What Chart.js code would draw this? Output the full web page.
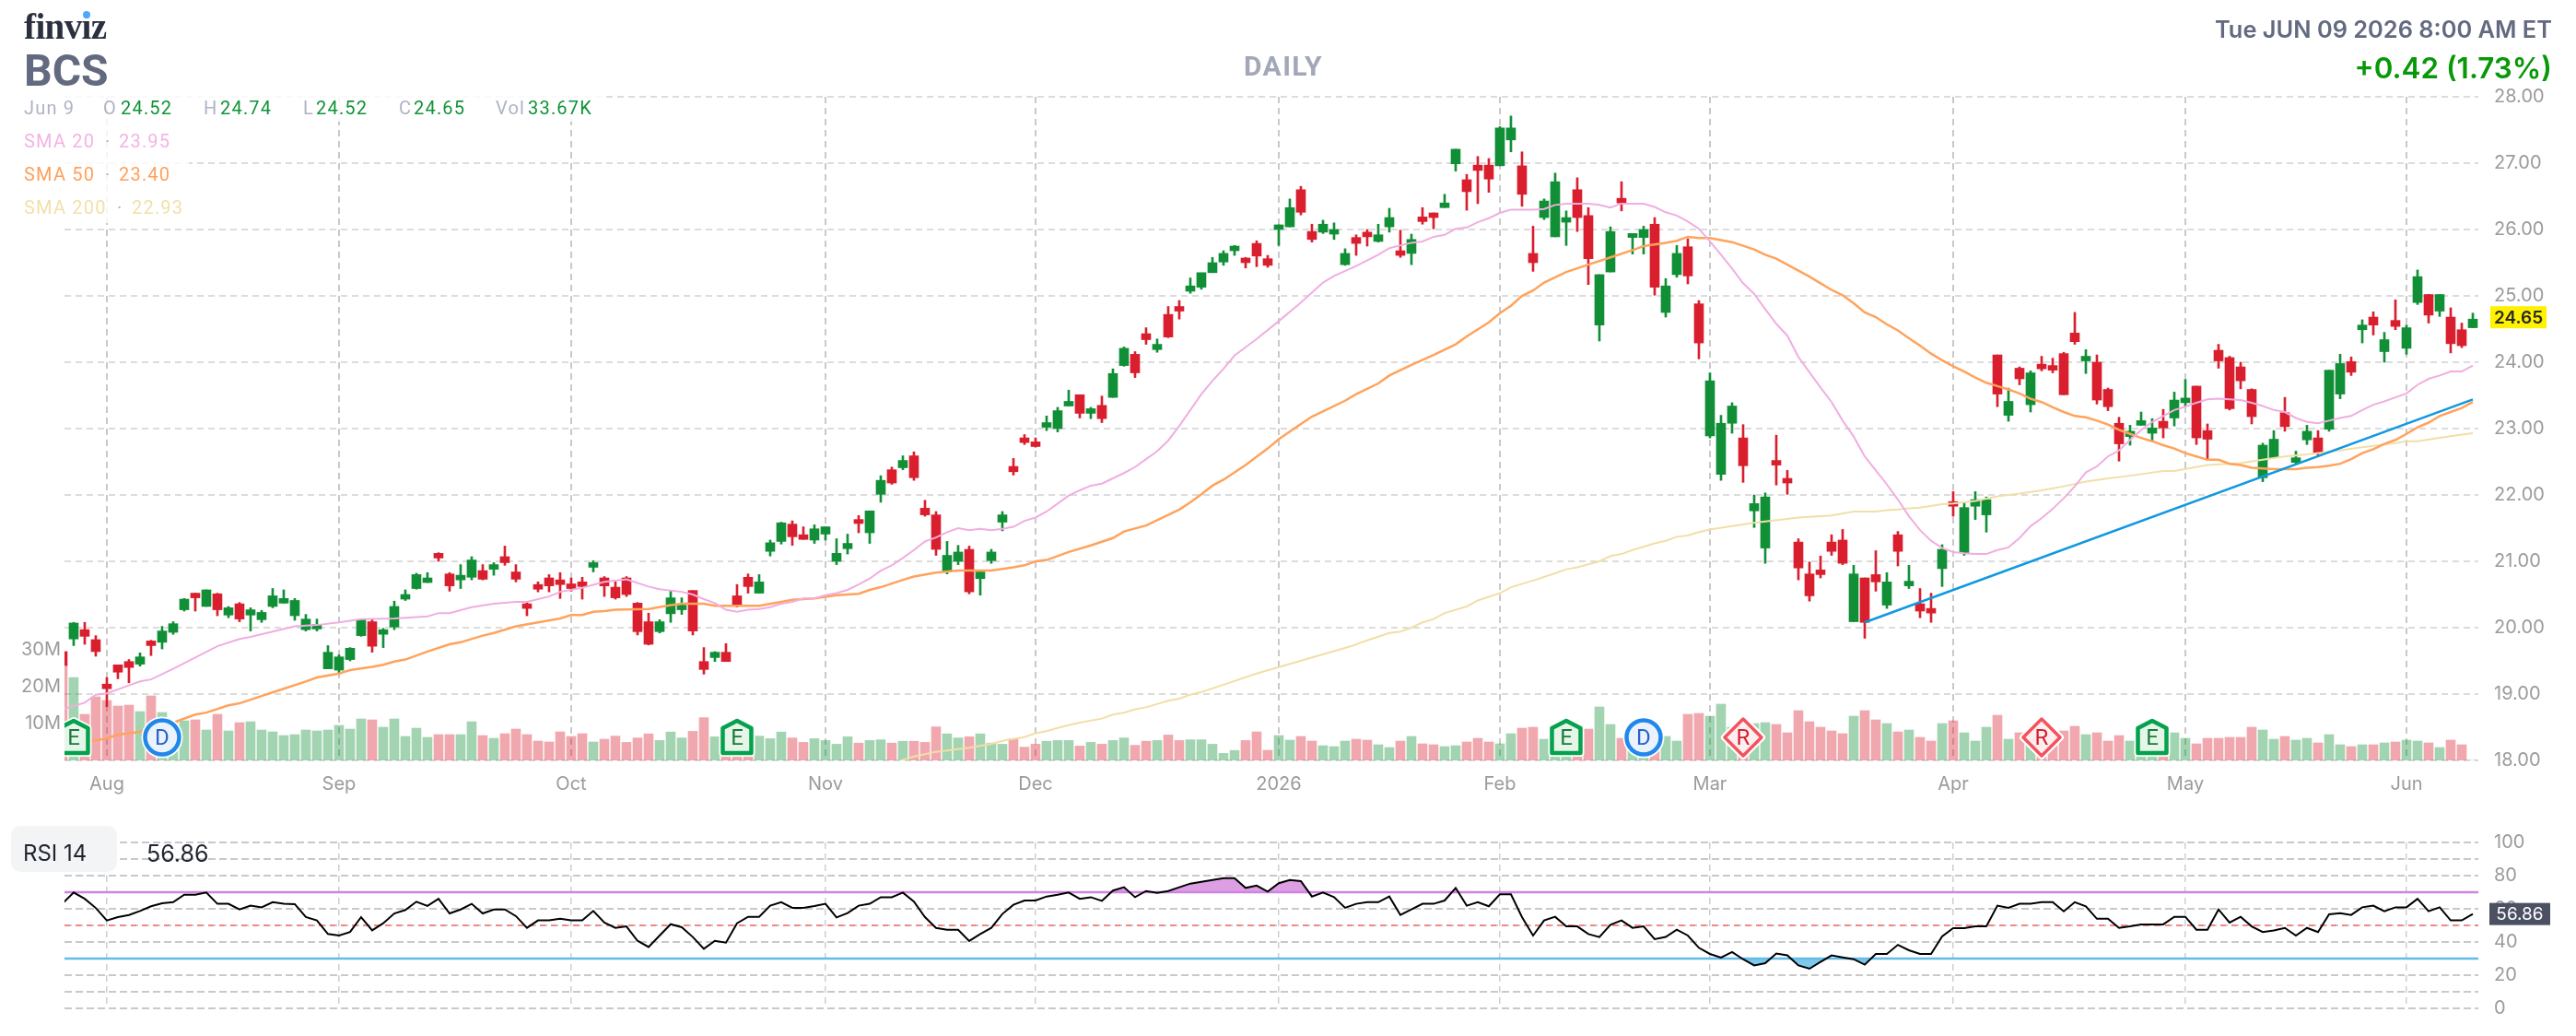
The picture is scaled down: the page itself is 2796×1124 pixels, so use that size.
<!DOCTYPE html>
<html>
<head>
<meta charset="utf-8">
<title>BCS daily chart</title>
<script src="https://cdn.jsdelivr.net/npm/chart.js@4/dist/chart.umd.min.js"></script>
<style>
  html, body { margin: 0; padding: 0; background: #fff; }
  #page { position: relative; width: 2796px; height: 1124px; overflow: hidden; background: #fff; font-family: Roboto, sans-serif; }
  canvas { position: absolute; left: 0; }
  .t { position: absolute; white-space: nowrap; line-height: 1; z-index: 3; }
  .veil { position: absolute; background: rgba(255,255,255,.82); z-index: 2; }
  .row { font-size: 20px; letter-spacing: 1.2px; transform: translateY(-50%); }
  .muted { color: #aeb3c6; }
  .up { color: #109438; }
</style>
</head>
<body>
<div id="page">
  <canvas id="priceCanvas" style="top:0"></canvas>
  <canvas id="rsiCanvas" style="top:880px"></canvas>

  <div class="veil" style="left:0;top:100px;width:656px;height:32px"></div>
  <div class="veil" style="left:0;top:132px;width:205px;height:110px"></div>

  <div class="t" style="left:26px;top:6px;font:700 39px 'Liberation Serif',serif;letter-spacing:-.6px;color:#2b3040">finviz</div>
  <div class="t" style="left:90px;top:12px;width:8px;height:8px;border-radius:50%;background:#4fa8ff"></div>
  <div class="t" style="left:26px;top:53px;font-size:48px;font-weight:700;color:#636a80">BCS</div>
  <div class="t" style="left:1393px;top:57px;transform:translateX(-50%);font-size:30px;font-weight:700;letter-spacing:1.4px;color:#a3a8b8">DAILY</div>
  <div class="t" style="right:26px;top:16px;font:600 25.4px Inter,sans-serif;color:#636a80">Tue JUN 09 2026 8:00 AM ET</div>
  <div class="t" style="right:26px;top:55px;font:600 31.4px Inter,sans-serif;color:#089808">+0.42 (1.73%)</div>

  <div class="t row muted" style="left:26px;top:117px">Jun 9</div>
  <div class="t row muted" style="left:112px;top:117px">O</div>
  <div class="t row up" style="left:131px;top:117px">24.52</div>
  <div class="t row muted" style="left:221px;top:117px">H</div>
  <div class="t row up" style="left:239px;top:117px">24.74</div>
  <div class="t row muted" style="left:329px;top:117px">L</div>
  <div class="t row up" style="left:343px;top:117px">24.52</div>
  <div class="t row muted" style="left:433px;top:117px">C</div>
  <div class="t row up" style="left:449px;top:117px">24.65</div>
  <div class="t row muted" style="left:538px;top:117px">Vol</div>
  <div class="t row up" style="left:573px;top:117px">33.67K</div>

  <div class="t row" style="left:26px;top:153px;color:#f4b3e3">SMA 20</div>
  <div class="t row muted" style="left:114px;top:153px">·</div>
  <div class="t row" style="left:129px;top:153px;color:#f4b3e3">23.95</div>
  <div class="t row" style="left:26px;top:189px;color:#ffa05c">SMA 50</div>
  <div class="t row muted" style="left:114px;top:189px">·</div>
  <div class="t row" style="left:129px;top:189px;color:#ffa05c">23.40</div>
  <div class="t row" style="left:26px;top:225px;color:#f3dfa9">SMA 200</div>
  <div class="t row muted" style="left:127px;top:225px">·</div>
  <div class="t row" style="left:143px;top:225px;color:#f3dfa9">22.93</div>

  <div class="t" style="left:12px;top:896px;width:115px;height:50px;border-radius:10px;background:#f3f4f6"></div>
  <div class="t" style="left:25px;top:911px;font:400 24px Inter,sans-serif;color:#1f2430">RSI 14</div>
  <div class="t" style="left:159px;top:911px;font:400 25px Inter,sans-serif;color:#1f2430">56.86</div>
</div>

<script>
// Daily bars, oldest first. Bar index 0 is the session before the first one fully in view.
const opens = [
  19.64,19.83,19.97,19.82,19.15,19.44,19.49,19.45,19.80,19.78,
  19.93,20.27,20.52,20.32,20.51,20.19,20.36,20.19,20.12,20.32,
  20.37,20.18,19.97,19.98,19.38,19.36,19.52,19.88,20.09,19.90,
  20.01,20.43,20.59,20.68,21.12,20.81,20.72,20.76,20.86,20.88,
  21.07,20.84,20.36,20.65,20.75,20.72,20.66,20.69,20.91,20.75,
  20.61,20.75,20.37,20.09,19.94,20.21,20.27,20.56,19.49,19.55,
  19.63,20.48,20.76,20.52,21.15,21.30,21.56,21.40,21.32,21.41,
  21.00,21.19,21.63,21.43,22.01,22.38,22.41,22.59,21.80,21.70,
  20.84,21.00,21.18,20.74,21.01,21.59,22.43,22.86,22.80,23.02,
  23.00,23.34,23.51,23.23,23.35,23.47,23.95,24.12,24.43,24.19,
  24.72,24.84,25.07,25.13,25.35,25.51,25.68,25.57,25.79,25.56,
  26.00,26.04,26.60,25.97,25.96,25.93,25.47,25.88,25.96,25.82,
  26.04,25.68,25.64,26.19,26.25,26.33,26.99,26.75,26.97,26.97,
  26.96,27.35,26.96,25.64,26.18,25.89,26.11,26.60,26.21,24.56,
  25.36,26.47,25.88,25.88,26.08,24.75,25.32,25.74,24.88,22.89,
  22.31,23.08,22.86,21.76,21.20,22.52,22.25,21.29,20.81,20.87,
  21.29,21.32,20.09,20.75,20.80,20.34,21.40,20.63,20.36,20.29,
  20.89,21.90,21.13,21.83,21.70,24.11,23.20,23.91,23.36,23.97,
  23.95,24.13,24.44,24.02,24.00,23.59,23.08,22.88,23.05,22.93,
  23.11,23.16,23.39,23.64,22.97,24.18,24.07,23.93,23.59,22.26,
  22.56,23.24,22.49,22.83,22.86,22.99,23.52,24.01,24.49,24.68,
  24.16,24.63,24.21,24.90,25.02,24.77,24.68,24.49,24.52
];
const highs = [
  19.66,20.08,20.08,19.88,19.25,19.44,19.52,19.62,19.81,20.02,
  20.09,20.44,20.52,20.57,20.52,20.32,20.38,20.30,20.26,20.59,
  20.57,20.44,20.20,20.13,19.73,19.59,19.70,20.13,20.13,19.99,
  20.40,20.57,20.82,20.83,21.13,20.83,20.95,21.07,20.95,20.98,
  21.23,20.95,20.38,20.69,20.80,20.83,20.75,20.76,21.01,20.77,
  20.69,20.77,20.38,20.22,20.12,20.56,20.45,20.56,19.70,19.64,
  19.76,20.65,20.81,20.80,21.32,21.59,21.61,21.52,21.55,21.52,
  21.34,21.41,21.69,21.76,22.29,22.42,22.59,22.65,21.92,21.75,
  21.30,21.24,21.23,20.86,21.18,21.75,22.55,22.91,22.86,23.19,
  23.32,23.58,23.51,23.32,23.49,23.90,24.23,24.16,24.52,24.35,
  24.84,24.93,25.27,25.32,25.58,25.68,25.76,25.58,25.83,25.61,
  26.07,26.46,26.65,26.08,26.14,26.10,25.71,25.92,26.00,26.08,
  26.32,25.99,25.93,26.33,26.25,26.53,27.21,26.83,27.10,27.07,
  27.55,27.71,27.17,26.05,26.46,26.85,26.28,26.78,26.33,25.32,
  26.04,26.72,25.94,26.05,26.18,25.26,25.76,25.86,24.93,23.84,
  23.20,23.39,23.06,22.00,22.03,22.90,22.37,21.34,20.99,21.08,
  21.40,21.48,20.94,20.75,21.16,20.83,21.45,20.94,20.59,20.52,
  21.25,22.05,21.88,22.05,21.97,24.11,23.61,23.93,23.87,24.09,
  24.06,24.15,24.75,24.19,24.11,23.61,23.17,23.05,23.25,23.15,
  23.29,23.55,23.74,23.64,23.07,24.27,24.09,24.00,23.60,22.78,
  22.97,23.47,22.66,23.05,22.97,23.88,24.12,24.08,24.64,24.76,
  24.45,24.94,24.56,25.39,25.02,25.02,24.82,24.59,24.74
];
const lows = [
  19.40,19.73,19.75,19.57,18.81,19.23,19.17,19.42,19.58,19.68,
  19.90,20.25,20.25,20.32,20.18,20.15,20.09,19.95,20.08,20.30,
  20.37,20.11,19.95,19.95,19.38,19.30,19.50,19.87,19.63,19.70,
  19.97,20.41,20.58,20.68,21.00,20.55,20.59,20.72,20.72,20.79,
  20.94,20.69,20.18,20.54,20.54,20.44,20.55,20.43,20.84,20.47,
  20.43,20.47,19.89,19.74,19.92,20.08,20.20,19.89,19.30,19.49,
  19.49,20.31,20.52,20.52,21.08,21.26,21.24,21.33,21.27,21.32,
  20.95,21.11,21.43,21.27,21.89,22.16,22.38,22.22,21.68,21.09,
  20.81,20.95,20.51,20.49,20.97,21.46,22.30,22.76,22.72,22.97,
  22.95,23.34,23.16,23.15,23.09,23.47,23.94,23.77,24.27,24.15,
  24.37,24.65,25.04,25.10,25.35,25.46,25.61,25.42,25.44,25.43,
  25.76,26.04,26.22,25.81,25.94,25.85,25.46,25.61,25.75,25.81,
  25.96,25.58,25.47,26.08,26.01,26.33,26.88,26.29,26.39,26.56,
  26.96,27.17,26.35,25.37,26.15,25.89,25.76,25.97,25.17,24.32,
  25.36,26.28,25.63,25.63,25.01,24.68,25.28,25.18,24.05,22.86,
  22.22,22.93,22.19,21.51,20.97,22.15,22.01,20.72,20.40,20.75,
  21.09,20.95,20.09,19.84,20.55,20.29,20.93,20.59,20.15,20.08,
  20.62,21.68,21.09,21.63,21.44,23.33,23.11,23.66,23.25,23.87,
  23.84,23.51,24.27,23.83,23.37,23.27,22.51,22.75,23.05,22.81,
  22.86,23.04,23.34,22.76,22.53,23.91,23.28,23.60,23.07,22.20,
  22.55,22.96,22.46,22.76,22.60,22.96,23.45,23.80,24.29,24.41,
  24.00,24.49,24.12,24.87,24.59,24.69,24.14,24.22,24.52
];
const closes = [
  19.43,20.07,19.87,19.64,19.08,19.33,19.40,19.56,19.73,19.95,
  20.06,20.43,20.45,20.57,20.27,20.30,20.13,20.27,20.23,20.48,
  20.44,20.41,20.13,20.05,19.63,19.56,19.69,20.12,19.72,19.97,
  20.32,20.50,20.80,20.75,21.05,20.63,20.79,21.02,20.73,20.95,
  20.98,20.73,20.29,20.58,20.63,20.65,20.59,20.62,20.98,20.63,
  20.45,20.50,19.94,19.75,20.09,20.45,20.34,19.95,19.37,19.63,
  19.49,20.35,20.62,20.69,21.28,21.58,21.37,21.33,21.49,21.52,
  21.12,21.27,21.57,21.76,22.22,22.18,22.52,22.26,21.70,21.18,
  21.09,21.14,20.54,20.84,21.14,21.70,22.35,22.79,22.73,23.09,
  23.27,23.41,23.23,23.30,23.15,23.83,24.21,23.84,24.34,24.27,
  24.38,24.77,25.15,25.35,25.50,25.64,25.75,25.50,25.60,25.46,
  26.07,26.33,26.26,25.85,26.08,26.00,25.64,25.79,25.89,25.92,
  26.18,25.61,25.85,26.12,26.18,26.40,27.21,26.57,26.89,26.76,
  27.53,27.53,26.53,25.50,26.43,26.72,26.18,26.18,25.56,25.32,
  25.97,26.40,25.94,26.00,25.13,25.15,25.64,25.30,24.29,23.72,
  23.08,23.34,22.44,21.87,21.97,22.45,22.18,20.90,20.48,20.80,
  21.15,20.97,20.81,20.08,20.69,20.69,21.15,20.70,20.25,20.22,
  21.18,21.83,21.81,21.93,21.93,23.52,23.41,23.75,23.84,23.90,
  23.88,23.51,24.31,24.09,23.43,23.33,22.77,22.96,23.12,23.01,
  23.01,23.43,23.46,22.86,22.84,24.02,23.30,23.72,23.18,22.75,
  22.84,23.03,22.56,22.96,22.63,23.88,23.98,23.85,24.56,24.56,
  24.34,24.54,24.52,25.29,24.71,25.02,24.28,24.25,24.65
];
// Shares traded per session, in millions.
const volumes = [
  25.8,22.5,12.5,17.25,16.25,14.75,15,13.25,17.5,13,
  10.5,10.75,11,8.25,12.5,8,10.25,10.5,8.25,7.75,
  6.75,7,8.25,8,8.25,9.5,8.5,11.25,11,9,
  11.25,6.5,8.75,6.25,7,7,7,10.5,6.75,6,
  7.25,8.5,7,5.25,5,7.75,6.5,7.25,5,5.75,
  6.6,4.9,6.1,7.2,5.4,7.7,6.1,7.9,11.6,6.4,
  6.5,6,5.5,6.6,5.9,7.7,6.1,4.9,5.9,5.4,
  4.4,6.4,4.7,5.4,5.6,4.7,5.2,5.2,4.9,9.1,
  7.2,6.1,6.4,7.2,4.7,4.4,5.9,3.6,4.4,5.2,
  5.4,5.4,3.9,4.9,4.4,5.4,6.1,4.1,5.2,5.4,
  6.9,5.4,5.6,5.6,4.4,1.9,2.7,5.4,7.75,2.75,
  6.75,5.5,6.5,5.25,4,3.75,5.25,5.75,5.5,4.25,
  3.5,5.25,6.5,4.5,4.25,3.75,4,5,6,5,
  4.5,7.25,8.75,9,5.75,6,6,7,8.5,14.5,
  9.75,6,7,6,5,6.5,5.25,12.5,12.75,12,
  15.25,9,7,10,10.25,9.75,7.5,13.5,10.5,9,
  8,7.25,12,13.5,11,10,7.75,8.25,6.25,5.25,
  10,10.75,7.5,5.25,9,12.25,5.75,7.5,8,8,
  7,8,9.25,7,7.5,5.25,6.75,5.25,7,6,
  6,7.5,6,4.5,6,6,6.25,6.25,9,8.25,
  5.75,6.5,5.5,6,4.75,7,4.25,3.75,4.25,4.25,
  4.75,5,5.5,5.25,4.75,3.5,5.5,4.25,0.03
];
// 14-session RSI, one value per bar.
const rsiValues = [
  63.3,69.8,66,60.5,53,55,56.3,58.7,61.5,63.3,
  64,68.5,68.5,69.8,63,63,59.6,61.9,60.9,64,
  63,62.8,55,53,44.8,43.9,46,55,47,51.3,
  57.2,59.3,64.3,61.7,66,57.2,59.6,63,57.2,59.6,
  59.6,55.6,48.5,53,53,54,53,53,58.7,51.7,
  48.5,49.4,40.7,37,43.9,50.7,48.9,43,35.9,40.7,
  39.6,51.3,55.2,55.2,61.9,64,60.6,60.6,61.7,63,
  54.8,57.4,61.9,63,67,67,69.8,64.3,55,48.5,
  47.4,47.4,40.6,44.8,48.5,56.9,62.4,65,65,67.4,
  68.5,69.8,66,67,64.8,71,73,67,70.7,69.6,
  70.7,73,75.2,76.3,77.4,78.5,78.5,72.6,74,70.4,
  75.4,77.4,76.7,67.4,69.8,67,60.6,63,64,64,
  67.4,56.3,59.6,63,63,65,72.6,61.9,64,61.5,
  68.7,68.7,55,43.9,53,55.2,49.4,49.4,44.8,43,
  50.4,53,48.5,49.4,41.7,43,47.4,43.9,36.5,32.8,
  30.6,34,29.6,25.9,27.2,33,32,25.9,23.9,28,
  31.9,30.7,29.6,26.3,32.8,32.8,38.3,35,32.8,32.8,
  43.3,48.3,48.3,49.4,49.4,61.9,60.6,63,63,64,
  64,58.5,64,61.5,54,54,48.5,49.4,50.6,50.6,
  50.6,55.2,55.2,47.4,47.4,59.6,51.7,55.2,49.4,46,
  47,48.5,43.9,48.5,46,56.7,57.4,56.3,60.9,61.9,
  58.5,60.9,60.9,66,58.5,60.9,53,53,56.86
];
// Moving averages as [bar index, value] pairs.
const sma20 = [
  [0,18.77],[2,18.87],[3,18.99],[4,19.01],[6,19.13],[7,19.19],[8,19.22],[10,19.38],[12,19.55],[14,19.72],
  [16,19.83],[17,19.86],[19,19.94],[21,20.02],[23,20.04],[25,20.08],[27,20.13],[30,20.14],[32,20.16],[33,20.17],
  [34,20.22],[35,20.22],[37,20.31],[39,20.36],[41,20.39],[42,20.39],[44,20.47],[45,20.54],[47,20.60],[49,20.69],
  [51,20.73],[53,20.62],[54,20.58],[56,20.54],[57,20.50],[58,20.43],[59,20.37],[60,20.27],[61,20.24],[62,20.27],
  [63,20.28],[64,20.31],[65,20.36],[66,20.39],[67,20.44],[68,20.44],[69,20.49],[70,20.52],[71,20.57],[72,20.65],
  [73,20.74],[74,20.86],[75,20.94],[76,21.05],[77,21.17],[78,21.30],[79,21.36],[80,21.44],[81,21.50],[82,21.47],
  [83,21.49],[84,21.47],[85,21.49],[86,21.52],[87,21.61],[88,21.66],[89,21.75],[90,21.87],[91,21.99],[92,22.07],
  [93,22.14],[94,22.17],[95,22.25],[96,22.33],[97,22.42],[98,22.54],[99,22.66],[100,22.82],[101,23.04],[102,23.28],
  [103,23.52],[104,23.72],[105,23.90],[106,24.10],[108,24.35],[110,24.62],[112,24.90],[114,25.20],[115,25.30],[117,25.45],
  [119,25.62],[120,25.72],[122,25.80],[123,25.82],[124,25.89],[125,25.92],[126,26.01],[127,26.03],[128,26.11],[129,26.17],
  [130,26.25],[131,26.30],[133,26.30],[134,26.31],[135,26.37],[136,26.39],[138,26.39],[139,26.37],[140,26.33],[141,26.39],
  [143,26.39],[144,26.34],[145,26.26],[146,26.21],[147,26.12],[148,26.01],[149,25.82],[150,25.62],[151,25.41],[152,25.19],
  [153,25.03],[154,24.80],[155,24.58],[156,24.40],[157,24.08],[158,23.85],[159,23.62],[160,23.40],[161,23.12],[162,22.88],
  [163,22.58],[164,22.37],[165,22.16],[166,21.93],[167,21.68],[168,21.47],[169,21.31],[170,21.20],[171,21.14],[172,21.12],
  [173,21.11],[174,21.11],[175,21.17],[176,21.21],[177,21.35],[178,21.53],[179,21.65],[180,21.79],[181,21.95],[182,22.13],
  [183,22.34],[184,22.43],[185,22.58],[186,22.67],[187,22.83],[188,22.98],[189,23.10],[190,23.19],[191,23.28],[192,23.33],
  [193,23.39],[194,23.44],[195,23.45],[196,23.44],[197,23.43],[198,23.39],[199,23.34],[200,23.28],[201,23.25],[202,23.16],
  [203,23.10],[204,23.08],[205,23.12],[206,23.16],[207,23.19],[208,23.28],[209,23.36],[210,23.41],[211,23.47],[212,23.53],
  [213,23.66],[214,23.75],[215,23.80],[216,23.86],[217,23.86],[218,23.95]
];
const sma50 = [
  [2.5,18.29],[4,18.33],[5,18.39],[7,18.43],[10,18.57],[12,18.69],[13,18.72],[15,18.83],[16,18.86],[18,18.97],
  [20,19.08],[22,19.19],[23,19.25],[25,19.31],[26,19.36],[28,19.41],[29,19.44],[30,19.49],[31,19.52],[33,19.64],
  [35,19.75],[36,19.78],[38,19.88],[39,19.92],[41,20.02],[43,20.08],[45,20.14],[46,20.19],[47,20.19],[48,20.24],
  [49,20.25],[50,20.27],[53,20.28],[55,20.34],[56,20.36],[58,20.36],[59,20.33],[61,20.33],[63,20.33],[65,20.39],
  [66,20.42],[68,20.44],[70,20.49],[72,20.51],[73,20.57],[74,20.61],[76,20.72],[77,20.77],[79,20.83],[81,20.86],
  [84,20.86],[86,20.91],[87,20.94],[88,21.00],[89,21.02],[91,21.14],[93,21.24],[95,21.35],[96,21.45],[98,21.54],
  [100,21.70],[101,21.78],[102,21.89],[103,22.01],[104,22.14],[105,22.23],[107,22.45],[109,22.70],[110,22.84],[112,23.07],
  [113,23.18],[116,23.42],[117,23.52],[119,23.68],[120,23.80],[122,23.96],[124,24.11],[126,24.27],[127,24.39],[129,24.60],
  [130,24.74],[131,24.85],[132,25.00],[133,25.08],[134,25.20],[136,25.36],[138,25.47],[140,25.58],[142,25.69],[143,25.75],
  [145,25.80],[146,25.83],[147,25.89],[148,25.87],[149,25.87],[151,25.81],[153,25.70],[154,25.62],[155,25.56],[157,25.38],
  [158,25.29],[159,25.19],[160,25.09],[161,25.01],[162,24.89],[163,24.75],[164,24.68],[165,24.57],[166,24.48],[167,24.36],
  [168,24.25],[169,24.13],[170,24.03],[171,23.94],[172,23.86],[173,23.77],[174,23.69],[175,23.64],[176,23.59],[177,23.53],
  [178,23.45],[179,23.40],[180,23.32],[181,23.25],[182,23.19],[183,23.17],[184,23.12],[185,23.06],[186,22.98],[187,22.92],
  [188,22.86],[189,22.81],[190,22.75],[191,22.70],[192,22.63],[193,22.58],[194,22.53],[195,22.53],[196,22.47],[197,22.45],
  [198,22.41],[199,22.40],[200,22.39],[201,22.39],[202,22.39],[203,22.41],[204,22.42],[205,22.44],[206,22.47],[207,22.54],
  [208,22.63],[209,22.69],[210,22.77],[211,22.83],[212,22.92],[213,23.02],[214,23.09],[215,23.19],[216,23.25],[217,23.31],
  [218,23.40]
];
const sma200 = [
  [75.7,17.99],[77,18.06],[79,18.13],[82,18.19],[84,18.25],[85.4,18.31],[87,18.35],[88,18.41],[89,18.44],[90,18.49],
  [91,18.53],[92,18.57],[94,18.63],[95,18.69],[96,18.72],[97,18.77],[98,18.80],[100,18.90],[101,18.93],[102,18.99],
  [103,19.03],[105,19.14],[108,19.31],[116.7,19.73],[118,19.81],[120,19.92],[121,19.94],[122,20.00],[123,20.08],[124,20.13],
  [125,20.22],[127,20.32],[128,20.41],[130,20.52],[131,20.61],[133,20.71],[135,20.82],[136,20.88],[137,20.91],[139,21.00],
  [140,21.08],[141,21.11],[142,21.17],[144,21.27],[145,21.31],[146,21.37],[147,21.39],[148,21.44],[149,21.48],[151,21.53],
  [153,21.58],[154,21.60],[156,21.64],[157,21.66],[158,21.67],[160,21.69],[162,21.75],[164,21.75],[165,21.77],[166,21.78],
  [167,21.80],[168,21.81],[170,21.86],[171,21.87],[173,21.91],[175,21.98],[177,22.02],[179,22.07],[181,22.13],[183,22.20],
  [185,22.25],[187,22.29],[190,22.36],[191,22.36],[194,22.45],[197,22.48],[199,22.53],[201,22.58],[203,22.61],[205,22.65],
  [208,22.72],[211,22.78],[212,22.81],[213,22.81],[215,22.86],[217,22.91],[218,22.93]
];
// Support trendline drawn through two anchors.
const trendLine = [[163,20.08],[218,23.44]];
// Bar index of the first session of each month and its axis label.
const monthBars = [4,25,46,69,88,110,130,149,171,192,212];
const monthLabels = ['Aug','Sep','Oct','Nov','Dec','2026','Feb','Mar','Apr','May','Jun'];
// Price and volume axis ticks.
const priceTicks = [18,19,20,21,22,23,24,25,26,27,28];
const volumeTicks = [10,20,30];
// Corporate event badges: earnings, dividend, rating change.
const eventKinds = ['E','D','E','E','D','R','R','E'];
const eventBars = [1,9,61,136,143,152,179,189];
const eventLevel = 6.25;   // on the volume axis, in millions
const rsiOverbought = 70;
const rsiMidline = 50;
const rsiOversold = 30;

const GREEN = '#118f37', RED = '#d91f2e';
const GREEN_VOL = 'rgba(17,143,55,.39)', RED_VOL = 'rgba(217,31,46,.39)';
const TICK_FONT = { family: 'Inter, sans-serif', size: 20 };
const TICK_COLOR = '#9b9b9b';
const X_MIN = 0.17, X_MAX = 218.5;
const isUp = i => closes[i] >= opens[i];
const bars = opens.map((_, i) => i);
const pairs = list => list.map(([x, y]) => ({ x, y }));
const fixedWidth = w => s => { s.width = w; };
const fixedHeight = h => s => { s.height = h; };
const monthTicks = s => { s.ticks = monthBars.map(value => ({ value })); };

const lineSet = (label, data, color, width, order, extra) => Object.assign({
  type: 'line', label, data, borderColor: color, borderWidth: width,
  pointRadius: 0, tension: 0, fill: false, order, yAxisID: 'y'
}, extra);

// Yellow tag holding the latest close on the price axis.
const closeTag = {
  id: 'closeTag',
  afterDraw(chart) {
    const { ctx, scales } = chart;
    const last = closes[closes.length - 1];
    const y = scales.y.getPixelForValue(last) - 2;
    ctx.save();
    ctx.fillStyle = '#fff200';
    ctx.fillRect(2703, y - 12, 61, 24);
    ctx.fillStyle = '#2a2a2a';
    ctx.font = '600 19px Inter, sans-serif';
    ctx.textBaseline = 'middle';
    ctx.textAlign = 'center';
    ctx.fillText(last.toFixed(2), 2733.5, y + 1);
    ctx.restore();
  }
};

// Tag holding the latest RSI on its axis.
const rsiTag = {
  id: 'rsiTag',
  afterDraw(chart) {
    const { ctx, scales } = chart;
    const last = rsiValues[rsiValues.length - 1];
    const y = scales.y.getPixelForValue(last);
    ctx.save();
    ctx.fillStyle = '#4b5063';
    ctx.fillRect(2702, y - 12, 66, 24);
    ctx.fillStyle = '#fff';
    ctx.font = '400 19px Inter, sans-serif';
    ctx.textBaseline = 'middle';
    ctx.textAlign = 'center';
    ctx.fillText(last.toFixed(2), 2735, y + 1);
    ctx.restore();
  }
};

// Event badges sit on top of the volume bars and stay inside the plot.
const eventBadges = {
  id: 'eventBadges',
  afterDatasetsDraw(chart) {
    const { ctx, scales, chartArea } = chart;
    const cy = scales.yVol.getPixelForValue(eventLevel);
    ctx.save();
    ctx.beginPath();
    ctx.rect(chartArea.left, chartArea.top, chartArea.right - chartArea.left, chartArea.bottom - chartArea.top);
    ctx.clip();
    eventKinds.forEach((kind, n) => {
      const cx = scales.x.getPixelForValue(eventBars[n]);
      ctx.lineJoin = 'round';
      ctx.beginPath();
      let stroke, fill, ink;
      if (kind === 'D') {
        ctx.arc(cx, cy, 18.5, 0, Math.PI * 2);
        stroke = '#2188ea'; fill = '#e9f2fd'; ink = '#2962c8';
      } else if (kind === 'R') {
        ctx.moveTo(cx, cy - 20);
        ctx.lineTo(cx + 20, cy);
        ctx.lineTo(cx, cy + 20);
        ctx.lineTo(cx - 20, cy);
        ctx.closePath();
        stroke = '#f4525e'; fill = '#fdeff0'; ink = '#d5202e';
      } else {
        ctx.moveTo(cx, cy - 18);
        ctx.lineTo(cx + 15.5, cy - 10);
        ctx.lineTo(cx + 15.5, cy + 17);
        ctx.lineTo(cx - 15.5, cy + 17);
        ctx.lineTo(cx - 15.5, cy - 10);
        ctx.closePath();
        stroke = '#04a24c'; fill = '#e5f5e8'; ink = '#1a7a3a';
      }
      ctx.strokeStyle = '#fff';
      ctx.lineWidth = 8;
      ctx.stroke();
      ctx.fillStyle = fill;
      ctx.fill();
      ctx.strokeStyle = stroke;
      ctx.lineWidth = kind === 'R' ? 3.5 : 4.5;
      ctx.stroke();
      ctx.fillStyle = ink;
      ctx.font = '400 24px Roboto, sans-serif';
      ctx.textAlign = 'center';
      ctx.textBaseline = 'middle';
      ctx.fillText(kind, cx, cy + 2);
    });
    ctx.restore();
  }
};

const priceCanvas = document.getElementById('priceCanvas');
priceCanvas.width = 2796; priceCanvas.height = 880;
new Chart(priceCanvas, {
  data: {
    datasets: [
      { type: 'bar', label: 'Volume', yAxisID: 'yVol', order: 10, grouped: false, barThickness: 10,
        data: bars.map(i => ({ x: i, y: volumes[i] })),
        backgroundColor: bars.map(i => isUp(i) ? GREEN_VOL : RED_VOL) },
      { type: 'bar', label: 'Range', yAxisID: 'y', order: 6, grouped: false, barThickness: 2,
        data: bars.map(i => ({ x: i, y: [lows[i], highs[i]] })),
        backgroundColor: bars.map(i => isUp(i) ? GREEN : RED) },
      { type: 'bar', label: 'Body', yAxisID: 'y', order: 5, grouped: false, barThickness: 10,
        data: bars.map(i => ({ x: i, y: [opens[i], closes[i]] })),
        backgroundColor: bars.map(i => isUp(i) ? GREEN : RED) },
      lineSet('SMA 200', pairs(sma200), '#f1dfa8', 2, 4),
      lineSet('SMA 50', pairs(sma50), '#ffa35c', 2.5, 3),
      lineSet('SMA 20', pairs(sma20), '#f0aee0', 2, 2),
      lineSet('Trend', pairs(trendLine), '#1098e0', 2.5, 1)
    ]
  },
  options: {
    responsive: false, animation: false, events: [],
    layout: { padding: { top: 105, left: 0, right: 0, bottom: 0 } },
    plugins: { legend: { display: false }, tooltip: { enabled: false } },
    scales: {
      x: {
        type: 'linear', min: X_MIN, max: X_MAX, offset: false,
        afterBuildTicks: monthTicks, afterFit: fixedHeight(55),
        grid: { offset: false, color: '#c9c9c9', lineWidth: 2, drawTicks: false },
        border: { display: false, dash: [7, 5] },
        ticks: {
          autoSkip: false, maxRotation: 0, padding: 14, color: TICK_COLOR, font: TICK_FONT,
          callback: v => monthLabels[monthBars.indexOf(v)]
        }
      },
      y: {
        position: 'right', min: 18, max: 28,
        afterBuildTicks: s => { s.ticks = priceTicks.map(value => ({ value })); },
        afterFit: fixedWidth(106),
        grid: { color: '#dcdcdc', lineWidth: 2, drawTicks: false },
        border: { display: false, dash: [7, 5] },
        ticks: { padding: 17, color: TICK_COLOR, font: TICK_FONT, autoSkip: false, callback: v => v.toFixed(2) }
      },
      yVol: {
        position: 'left', min: 0, max: 180,
        afterBuildTicks: s => { s.ticks = volumeTicks.map(value => ({ value })); },
        afterFit: fixedWidth(70),
        grid: { display: false, drawTicks: false },
        border: { display: false },
        ticks: { padding: 4, color: TICK_COLOR, font: TICK_FONT, autoSkip: false, callback: v => v + 'M' }
      }
    }
  },
  plugins: [eventBadges, closeTag]
});

const rsiPoints = bars.map(i => ({ x: i, y: rsiValues[i] }));
const levelLine = v => [{ x: X_MIN, y: v }, { x: X_MAX, y: v }];

const rsiCanvas = document.getElementById('rsiCanvas');
rsiCanvas.width = 2796; rsiCanvas.height = 244;
new Chart(rsiCanvas, {
  data: {
    datasets: [
      lineSet('Overbought zone', rsiPoints, 'transparent', 0, 6, {
        fill: { target: { value: rsiOverbought }, above: '#dd9fe3', below: 'transparent' } }),
      lineSet('Oversold zone', rsiPoints, 'transparent', 0, 5, {
        fill: { target: { value: rsiOversold }, above: 'transparent', below: '#7ec8ea' } }),
      lineSet('Midline', levelLine(rsiMidline), '#f48585', 2, 4, { borderDash: [6, 6] }),
      lineSet('Overbought', levelLine(rsiOverbought), '#cf84e0', 2.5, 3),
      lineSet('Oversold', levelLine(rsiOversold), '#62bce8', 2.5, 2),
      lineSet('RSI 14', rsiPoints, '#000', 2, 1)
    ]
  },
  options: {
    responsive: false, animation: false, events: [],
    layout: { padding: { top: 34, left: 70, right: 0, bottom: 30 } },
    plugins: { legend: { display: false }, tooltip: { enabled: false } },
    scales: {
      x: {
        type: 'linear', min: X_MIN, max: X_MAX,
        afterBuildTicks: monthTicks, afterFit: fixedHeight(0),
        grid: { offset: false, color: '#cfcfcf', lineWidth: 1.5, drawTicks: false },
        border: { display: false, dash: [7, 5] },
        ticks: { display: false, autoSkip: false, maxRotation: 0, padding: 0 }
      },
      y: {
        position: 'right', min: 0, max: 100,
        afterFit: fixedWidth(106),
        grid: { color: '#c9c9c9', lineWidth: 2, drawTicks: false },
        border: { display: false, dash: [8, 4] },
        ticks: {
          stepSize: 10, autoSkip: false, padding: 17, color: TICK_COLOR, font: TICK_FONT,
          callback: v => v % 20 === 0 ? String(v) : ''
        }
      }
    }
  },
  plugins: [rsiTag]
});
</script>
</body>
</html>
